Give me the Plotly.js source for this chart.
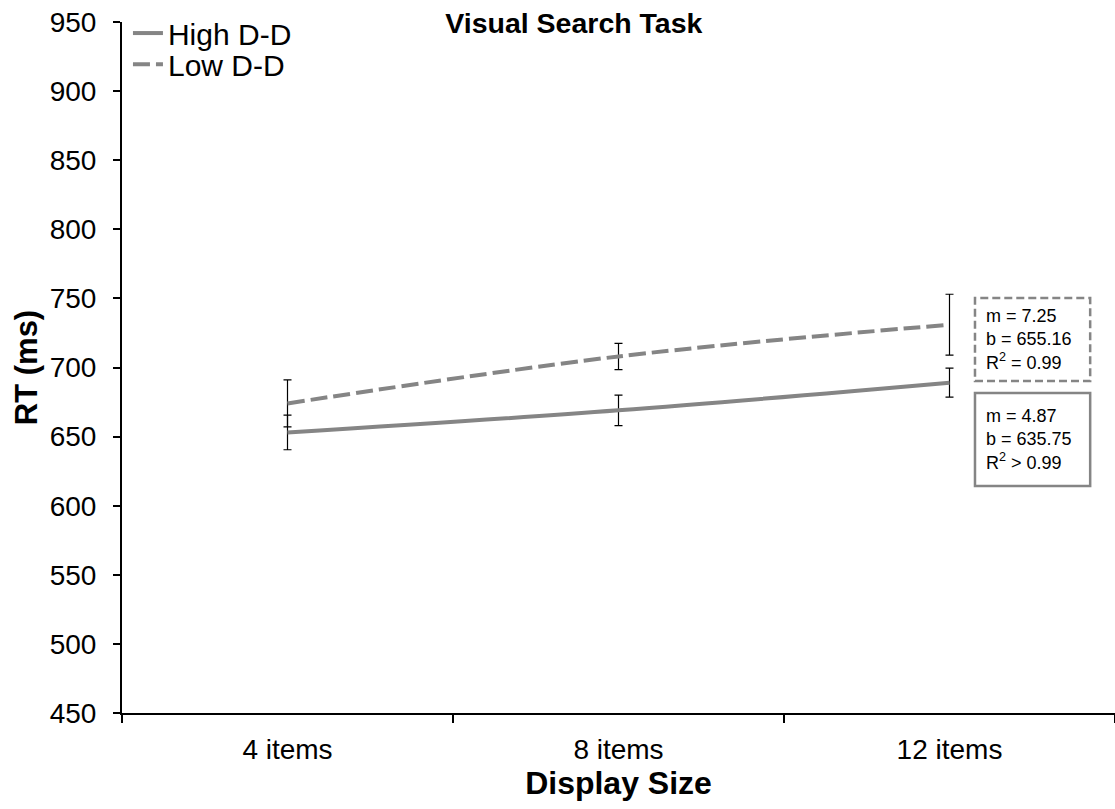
<!DOCTYPE html>
<html>
<head>
<meta charset="utf-8">
<script src="https://cdn.plot.ly/plotly-3.0.1.min.js"></script>
<style>html,body{margin:0;padding:0;background:#fff;}#chart{width:1115px;height:809px;}</style>
</head>
<body>
<div id="chart"></div>
<script>
const categories = ["4 items", "8 items", "12 items"];
const highDD = [653, 669, 689];
const highErr = [12.5, 11, 10.5];
const lowDD = [674, 708, 731];
const lowErr = [17, 9.5, 22];
const yTicks = [450, 500, 550, 600, 650, 700, 750, 800, 850, 900, 950];
const lowFitText = "m = 7.25<br>b = 655.16<br>R<sup>2</sup> = 0.99";
const highFitText = "m = 4.87<br>b = 635.75<br>R<sup>2</sup> > 0.99";

const FONT = "Arial, 'Liberation Sans', sans-serif";
const GRAY = "#858585";

const traces = [
  {
    x: categories, y: highDD, name: "High D-D", type: "scatter", mode: "lines", legend: "legend",
    line: {color: GRAY, width: 4, shape: "spline"},
    error_y: {type: "data", array: highErr, visible: true, color: "#000", thickness: 1.2, width: 4}
  },
  {
    x: categories, y: lowDD, name: "Low D-D", type: "scatter", mode: "lines", legend: "legend2",
    line: {color: GRAY, width: 4, dash: "17px,6px", shape: "spline"},
    error_y: {type: "data", array: lowErr, visible: true, color: "#000", thickness: 1.2, width: 4}
  }
];

const legendStyle = (y) => ({x: 0.006, y: y, xanchor: "left", yanchor: "middle",
  font: {size: 30, family: FONT}, bgcolor: "rgba(0,0,0,0)", itemwidth: 30});

const layout = {
  width: 1115, height: 809,
  margin: {l: 122, r: 0, t: 22, b: 96},
  paper_bgcolor: "#fff", plot_bgcolor: "#fff",
  font: {family: FONT, color: "#000"},
  title: {text: "<b>Visual Search Task</b>", font: {size: 28.5, family: FONT, color: "#000"},
          xref: "paper", x: 0.455, xanchor: "center", yref: "container", y: 0.971, yanchor: "middle"},
  showlegend: true,
  legend: legendStyle(0.984),
  legend2: legendStyle(0.939),
  xaxis: {
    type: "category", range: [-0.5, 2.5], tickson: "boundaries",
    showgrid: false, zeroline: false, showline: true, linecolor: "#000", linewidth: 2,
    ticks: "outside", ticklen: 8, tickwidth: 2, tickcolor: "#000",
    tickfont: {size: 28, family: FONT}, ticklabelstandoff: 10, fixedrange: true,
    title: {text: "<b>Display Size</b>", font: {size: 32, family: FONT}, standoff: 7}
  },
  yaxis: {
    range: [450, 950], tickvals: yTicks, ticktext: yTicks.map(String),
    showgrid: false, zeroline: false, showline: true, linecolor: "#000", linewidth: 2,
    ticks: "outside", ticklen: 7, tickwidth: 2, tickcolor: "#000",
    tickfont: {size: 28, family: FONT}, ticklabelstandoff: 11,
    title: {text: "<b>RT (ms)</b>", font: {size: 31, family: FONT}, standoff: 3}
  },
  shapes: [
    {type: "rect", xref: "paper", yref: "paper", x0: 0.859, x1: 0.975, y0: 0.4805, y1: 0.6005,
     line: {color: GRAY, width: 2.5, dash: "8px,4px"}},
    {type: "rect", xref: "paper", yref: "paper", x0: 0.859, x1: 0.975, y0: 0.3285, y1: 0.4630,
     line: {color: GRAY, width: 2.5}}
  ],
  annotations: [
    {xref: "paper", yref: "paper", x: 0.868, y: 0.540, xanchor: "left", yanchor: "middle",
     text: lowFitText, align: "left", showarrow: false, font: {size: 18, family: FONT}},
    {xref: "paper", yref: "paper", x: 0.868, y: 0.396, xanchor: "left", yanchor: "middle",
     text: highFitText, align: "left", showarrow: false, font: {size: 18, family: FONT}}
  ]
};

Plotly.newPlot("chart", traces, layout, {displayModeBar: false, staticPlot: true});
</script>
</body>
</html>
